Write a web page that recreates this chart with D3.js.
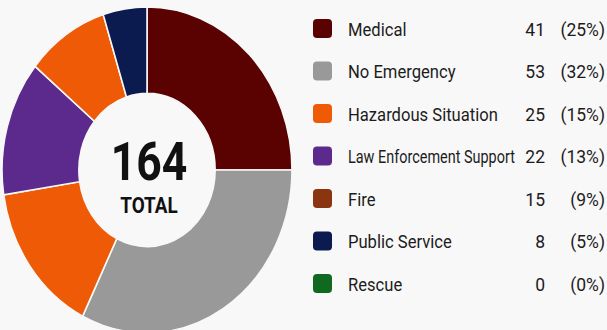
<!DOCTYPE html>
<html>
<head>
<meta charset="utf-8">
<script src="https://cdn.jsdelivr.net/npm/d3@7"></script>
<style>
  html, body { margin: 0; padding: 0; background: #f8f8f8; }
  svg { display: block; }
  text { font-family: Roboto, "Noto Sans", sans-serif; }
</style>
</head>
<body>
<svg id="chart" width="607" height="330"></svg>
<script>
// Incident categories and counts
const categories = ["Medical", "No Emergency", "Hazardous Situation", "Law Enforcement Support", "Fire", "Public Service", "Rescue"];
const counts = [41, 53, 25, 22, 15, 8, 0];
// Swatch colours shown in the key, and the fills used in the ring
const legendColors = ["#5a0202", "#999999", "#ef5a06", "#5b2a8c", "#8a3510", "#0b1a4f", "#11691f"];
const sliceColors  = ["#5a0202", "#999999", "#ef5a06", "#5b2a8c", "#ef5a06", "#0b1a4f", "#11691f"];
const totalLabel = "TOTAL";

const total = d3.sum(counts);
const data = categories.map((c, i) => ({ name: c, value: counts[i], legend: legendColors[i], fill: sliceColors[i] }));

const svg = d3.select("#chart");
svg.append("rect").attr("width", 607).attr("height", 330).attr("fill", "#f8f8f8");

// Donut (drawn as a circle, stretched vertically into an ellipse)
const cx = 147, cy = 170, R = 163, sx = 145 / 163;
const pie = d3.pie().value(d => d.value).sort(null);
const arc = d3.arc().innerRadius(R * 0.47).outerRadius(R);

const ring = svg.append("g").attr("transform", `translate(${cx},${cy}) scale(${sx},1)`);
ring.selectAll("path")
  .data(pie(data).filter(d => d.data.value > 0))
  .join("path")
  .attr("d", arc)
  .attr("fill", d => d.data.fill)
  .attr("stroke", "#f8f8f8")
  .attr("stroke-width", 1.6)
  .attr("vector-effect", "non-scaling-stroke");

// Center total
const center = svg.append("g").attr("transform", `translate(149,0)`);
center.append("text")
  .attr("transform", "translate(0,180) scale(0.84,1)")
  .attr("text-anchor", "middle")
  .attr("font-size", 53)
  .attr("font-weight", 700)
  .attr("fill", "#111")
  .text(total);
center.append("text")
  .attr("transform", "translate(0,213) scale(0.86,1)")
  .attr("text-anchor", "middle")
  .attr("font-size", 22)
  .attr("font-weight", 700)
  .attr("fill", "#111")
  .text(totalLabel);

// Legend
const y = d3.scalePoint().domain(categories).range([29, 284]);
const rows = svg.append("g").selectAll("g").data(data).join("g")
  .attr("transform", d => `translate(0,${y(d.name)})`);

rows.append("rect")
  .attr("x", 313).attr("y", -10)
  .attr("width", 19).attr("height", 19)
  .attr("rx", 4)
  .attr("fill", d => d.legend);

const labelW = 167;
rows.append("text")
  .attr("x", 348).attr("y", 6.5)
  .attr("font-size", 17.5)
  .attr("fill", "#1c1c1c")
  .text(d => d.name)
  .each(function () {
    const w = this.getComputedTextLength();
    const k = Math.min(0.95, labelW / w);
    d3.select(this).attr("transform", `translate(348,0) scale(${k},1) translate(-348,0)`);
  });

rows.append("text")
  .attr("x", 545).attr("y", 6.5)
  .attr("text-anchor", "end")
  .attr("font-size", 17.5)
  .attr("fill", "#1c1c1c")
  .text(d => d.value);

rows.append("text")
  .attr("x", 605).attr("y", 6.5)
  .attr("text-anchor", "end")
  .attr("font-size", 17.5)
  .attr("fill", "#1c1c1c")
  .text(d => `(${Math.round(d.value / total * 100)}%)`);
</script>
</body>
</html>
